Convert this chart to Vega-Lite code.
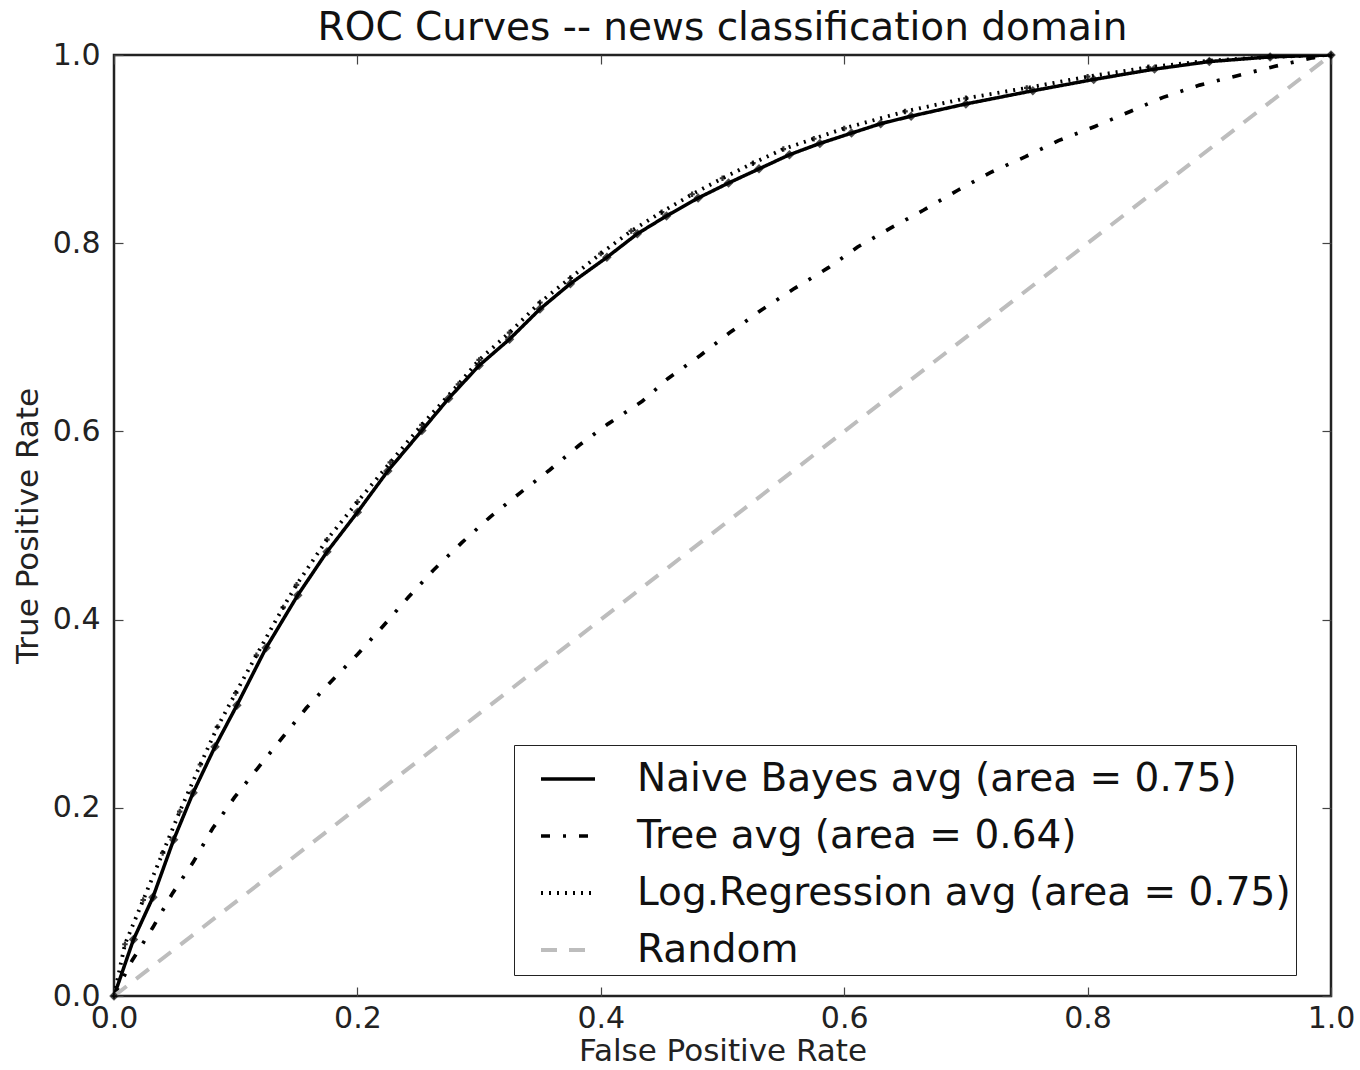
{
  "$schema": "https://vega.github.io/schema/vega-lite/v6.json",
  "width": 1217,
  "height": 941,
  "autosize": {"type": "none"},
  "padding": {"left": 114, "top": 55, "right": 29, "bottom": 74},
  "background": "white",
  "title": {"text": "ROC Curves -- news classification domain", "font": "DejaVu Sans", "fontSize": 39, "fontWeight": "normal", "color": "#111", "anchor": "middle", "offset": -8},
  "config": {
    "view": {"stroke": "#222", "strokeWidth": 2.5},
    "axis": {"labelFont": "DejaVu Sans", "titleFont": "DejaVu Sans", "labelFontSize": 30, "titleFontSize": 31, "titleFontWeight": "normal", "labelColor": "#222", "titleColor": "#222", "grid": false, "domain": false, "tickColor": "#444", "tickSize": -9, "tickWidth": 1.2}
  },
  "datasets": {
    "roc": [
      {"model": "Naive Bayes avg (area = 0.75)", "fpr": 0, "tpr": 0},
      {"model": "Naive Bayes avg (area = 0.75)", "fpr": 0.016, "tpr": 0.06},
      {"model": "Naive Bayes avg (area = 0.75)", "fpr": 0.032, "tpr": 0.105},
      {"model": "Naive Bayes avg (area = 0.75)", "fpr": 0.049, "tpr": 0.166},
      {"model": "Naive Bayes avg (area = 0.75)", "fpr": 0.065, "tpr": 0.216},
      {"model": "Naive Bayes avg (area = 0.75)", "fpr": 0.083, "tpr": 0.265},
      {"model": "Naive Bayes avg (area = 0.75)", "fpr": 0.101, "tpr": 0.309},
      {"model": "Naive Bayes avg (area = 0.75)", "fpr": 0.125, "tpr": 0.37},
      {"model": "Naive Bayes avg (area = 0.75)", "fpr": 0.151, "tpr": 0.426},
      {"model": "Naive Bayes avg (area = 0.75)", "fpr": 0.175, "tpr": 0.472},
      {"model": "Naive Bayes avg (area = 0.75)", "fpr": 0.2, "tpr": 0.514},
      {"model": "Naive Bayes avg (area = 0.75)", "fpr": 0.225, "tpr": 0.558},
      {"model": "Naive Bayes avg (area = 0.75)", "fpr": 0.253, "tpr": 0.601},
      {"model": "Naive Bayes avg (area = 0.75)", "fpr": 0.275, "tpr": 0.635},
      {"model": "Naive Bayes avg (area = 0.75)", "fpr": 0.3, "tpr": 0.67},
      {"model": "Naive Bayes avg (area = 0.75)", "fpr": 0.325, "tpr": 0.698},
      {"model": "Naive Bayes avg (area = 0.75)", "fpr": 0.35, "tpr": 0.73},
      {"model": "Naive Bayes avg (area = 0.75)", "fpr": 0.375, "tpr": 0.757},
      {"model": "Naive Bayes avg (area = 0.75)", "fpr": 0.405, "tpr": 0.785},
      {"model": "Naive Bayes avg (area = 0.75)", "fpr": 0.43, "tpr": 0.81},
      {"model": "Naive Bayes avg (area = 0.75)", "fpr": 0.454, "tpr": 0.829},
      {"model": "Naive Bayes avg (area = 0.75)", "fpr": 0.48, "tpr": 0.848},
      {"model": "Naive Bayes avg (area = 0.75)", "fpr": 0.505, "tpr": 0.864},
      {"model": "Naive Bayes avg (area = 0.75)", "fpr": 0.53, "tpr": 0.879},
      {"model": "Naive Bayes avg (area = 0.75)", "fpr": 0.555, "tpr": 0.894},
      {"model": "Naive Bayes avg (area = 0.75)", "fpr": 0.58, "tpr": 0.906},
      {"model": "Naive Bayes avg (area = 0.75)", "fpr": 0.606, "tpr": 0.917},
      {"model": "Naive Bayes avg (area = 0.75)", "fpr": 0.63, "tpr": 0.927},
      {"model": "Naive Bayes avg (area = 0.75)", "fpr": 0.655, "tpr": 0.935},
      {"model": "Naive Bayes avg (area = 0.75)", "fpr": 0.7, "tpr": 0.948},
      {"model": "Naive Bayes avg (area = 0.75)", "fpr": 0.755, "tpr": 0.962},
      {"model": "Naive Bayes avg (area = 0.75)", "fpr": 0.805, "tpr": 0.974},
      {"model": "Naive Bayes avg (area = 0.75)", "fpr": 0.855, "tpr": 0.985},
      {"model": "Naive Bayes avg (area = 0.75)", "fpr": 0.9, "tpr": 0.993},
      {"model": "Naive Bayes avg (area = 0.75)", "fpr": 0.95, "tpr": 0.998},
      {"model": "Naive Bayes avg (area = 0.75)", "fpr": 1, "tpr": 1},
      {"model": "Tree avg (area = 0.64)", "fpr": 0, "tpr": 0},
      {"model": "Tree avg (area = 0.64)", "fpr": 0.015, "tpr": 0.038},
      {"model": "Tree avg (area = 0.64)", "fpr": 0.032, "tpr": 0.073},
      {"model": "Tree avg (area = 0.64)", "fpr": 0.048, "tpr": 0.109},
      {"model": "Tree avg (area = 0.64)", "fpr": 0.065, "tpr": 0.142},
      {"model": "Tree avg (area = 0.64)", "fpr": 0.081, "tpr": 0.178},
      {"model": "Tree avg (area = 0.64)", "fpr": 0.099, "tpr": 0.211},
      {"model": "Tree avg (area = 0.64)", "fpr": 0.118, "tpr": 0.242},
      {"model": "Tree avg (area = 0.64)", "fpr": 0.138, "tpr": 0.274},
      {"model": "Tree avg (area = 0.64)", "fpr": 0.158, "tpr": 0.306},
      {"model": "Tree avg (area = 0.64)", "fpr": 0.179, "tpr": 0.335},
      {"model": "Tree avg (area = 0.64)", "fpr": 0.2, "tpr": 0.363},
      {"model": "Tree avg (area = 0.64)", "fpr": 0.221, "tpr": 0.393},
      {"model": "Tree avg (area = 0.64)", "fpr": 0.242, "tpr": 0.424},
      {"model": "Tree avg (area = 0.64)", "fpr": 0.262, "tpr": 0.452},
      {"model": "Tree avg (area = 0.64)", "fpr": 0.286, "tpr": 0.482},
      {"model": "Tree avg (area = 0.64)", "fpr": 0.309, "tpr": 0.509},
      {"model": "Tree avg (area = 0.64)", "fpr": 0.334, "tpr": 0.535},
      {"model": "Tree avg (area = 0.64)", "fpr": 0.358, "tpr": 0.559},
      {"model": "Tree avg (area = 0.64)", "fpr": 0.382, "tpr": 0.585},
      {"model": "Tree avg (area = 0.64)", "fpr": 0.406, "tpr": 0.608},
      {"model": "Tree avg (area = 0.64)", "fpr": 0.434, "tpr": 0.632},
      {"model": "Tree avg (area = 0.64)", "fpr": 0.455, "tpr": 0.656},
      {"model": "Tree avg (area = 0.64)", "fpr": 0.482, "tpr": 0.681},
      {"model": "Tree avg (area = 0.64)", "fpr": 0.506, "tpr": 0.705},
      {"model": "Tree avg (area = 0.64)", "fpr": 0.532, "tpr": 0.729},
      {"model": "Tree avg (area = 0.64)", "fpr": 0.558, "tpr": 0.751},
      {"model": "Tree avg (area = 0.64)", "fpr": 0.587, "tpr": 0.774},
      {"model": "Tree avg (area = 0.64)", "fpr": 0.611, "tpr": 0.796},
      {"model": "Tree avg (area = 0.64)", "fpr": 0.638, "tpr": 0.816},
      {"model": "Tree avg (area = 0.64)", "fpr": 0.665, "tpr": 0.835},
      {"model": "Tree avg (area = 0.64)", "fpr": 0.693, "tpr": 0.856},
      {"model": "Tree avg (area = 0.64)", "fpr": 0.72, "tpr": 0.875},
      {"model": "Tree avg (area = 0.64)", "fpr": 0.749, "tpr": 0.892},
      {"model": "Tree avg (area = 0.64)", "fpr": 0.776, "tpr": 0.909},
      {"model": "Tree avg (area = 0.64)", "fpr": 0.806, "tpr": 0.924},
      {"model": "Tree avg (area = 0.64)", "fpr": 0.835, "tpr": 0.94},
      {"model": "Tree avg (area = 0.64)", "fpr": 0.862, "tpr": 0.955},
      {"model": "Tree avg (area = 0.64)", "fpr": 0.892, "tpr": 0.968},
      {"model": "Tree avg (area = 0.64)", "fpr": 0.923, "tpr": 0.978},
      {"model": "Tree avg (area = 0.64)", "fpr": 0.954, "tpr": 0.988},
      {"model": "Tree avg (area = 0.64)", "fpr": 0.985, "tpr": 0.997},
      {"model": "Tree avg (area = 0.64)", "fpr": 1, "tpr": 1},
      {"model": "Log.Regression avg (area = 0.75)", "fpr": 0, "tpr": 0},
      {"model": "Log.Regression avg (area = 0.75)", "fpr": 0.009, "tpr": 0.055},
      {"model": "Log.Regression avg (area = 0.75)", "fpr": 0.024, "tpr": 0.102},
      {"model": "Log.Regression avg (area = 0.75)", "fpr": 0.04, "tpr": 0.152},
      {"model": "Log.Regression avg (area = 0.75)", "fpr": 0.054, "tpr": 0.196},
      {"model": "Log.Regression avg (area = 0.75)", "fpr": 0.071, "tpr": 0.246},
      {"model": "Log.Regression avg (area = 0.75)", "fpr": 0.085, "tpr": 0.286},
      {"model": "Log.Regression avg (area = 0.75)", "fpr": 0.1, "tpr": 0.322},
      {"model": "Log.Regression avg (area = 0.75)", "fpr": 0.117, "tpr": 0.362},
      {"model": "Log.Regression avg (area = 0.75)", "fpr": 0.139, "tpr": 0.413},
      {"model": "Log.Regression avg (area = 0.75)", "fpr": 0.15, "tpr": 0.437},
      {"model": "Log.Regression avg (area = 0.75)", "fpr": 0.175, "tpr": 0.485},
      {"model": "Log.Regression avg (area = 0.75)", "fpr": 0.2, "tpr": 0.525},
      {"model": "Log.Regression avg (area = 0.75)", "fpr": 0.227, "tpr": 0.567},
      {"model": "Log.Regression avg (area = 0.75)", "fpr": 0.253, "tpr": 0.607},
      {"model": "Log.Regression avg (area = 0.75)", "fpr": 0.283, "tpr": 0.65},
      {"model": "Log.Regression avg (area = 0.75)", "fpr": 0.3, "tpr": 0.676},
      {"model": "Log.Regression avg (area = 0.75)", "fpr": 0.325, "tpr": 0.705},
      {"model": "Log.Regression avg (area = 0.75)", "fpr": 0.35, "tpr": 0.737},
      {"model": "Log.Regression avg (area = 0.75)", "fpr": 0.375, "tpr": 0.763},
      {"model": "Log.Regression avg (area = 0.75)", "fpr": 0.4, "tpr": 0.789},
      {"model": "Log.Regression avg (area = 0.75)", "fpr": 0.425, "tpr": 0.813},
      {"model": "Log.Regression avg (area = 0.75)", "fpr": 0.45, "tpr": 0.833},
      {"model": "Log.Regression avg (area = 0.75)", "fpr": 0.475, "tpr": 0.852},
      {"model": "Log.Regression avg (area = 0.75)", "fpr": 0.5, "tpr": 0.869},
      {"model": "Log.Regression avg (area = 0.75)", "fpr": 0.525, "tpr": 0.885},
      {"model": "Log.Regression avg (area = 0.75)", "fpr": 0.55, "tpr": 0.9},
      {"model": "Log.Regression avg (area = 0.75)", "fpr": 0.575, "tpr": 0.911},
      {"model": "Log.Regression avg (area = 0.75)", "fpr": 0.6, "tpr": 0.922},
      {"model": "Log.Regression avg (area = 0.75)", "fpr": 0.65, "tpr": 0.94},
      {"model": "Log.Regression avg (area = 0.75)", "fpr": 0.7, "tpr": 0.954},
      {"model": "Log.Regression avg (area = 0.75)", "fpr": 0.75, "tpr": 0.965},
      {"model": "Log.Regression avg (area = 0.75)", "fpr": 0.8, "tpr": 0.977},
      {"model": "Log.Regression avg (area = 0.75)", "fpr": 0.85, "tpr": 0.987},
      {"model": "Log.Regression avg (area = 0.75)", "fpr": 0.9, "tpr": 0.994},
      {"model": "Log.Regression avg (area = 0.75)", "fpr": 0.95, "tpr": 0.998},
      {"model": "Log.Regression avg (area = 0.75)", "fpr": 1, "tpr": 1},
      {"model": "Random", "fpr": 0, "tpr": 0},
      {"model": "Random", "fpr": 1, "tpr": 1}
    ]
  },
  "data": {"name": "roc"},
  "resolve": {"axis": {"x": "independent", "y": "independent"}},
  "layer": [
    {
      "mark": {"type": "line", "clip": true},
      "encoding": {
        "x": {"field": "fpr", "type": "quantitative", "scale": {"domain": [0, 1], "nice": false, "zero": false}, "axis": {"title": "False Positive Rate", "values": [0, 0.2, 0.4, 0.6, 0.8, 1.0], "format": ".1f", "labelPadding": 16, "titlePadding": 3, "labelFlush": false}},
        "y": {"field": "tpr", "type": "quantitative", "scale": {"domain": [0, 1], "nice": false, "zero": false}, "axis": {"title": "True Positive Rate", "values": [0, 0.2, 0.4, 0.6, 0.8, 1.0], "format": ".1f", "labelPadding": 23, "titlePadding": 8, "labelFlush": false}},
        "order": {"field": "fpr", "type": "quantitative"},
        "color": {"field": "model", "type": "nominal",
          "scale": {"domain": ["Naive Bayes avg (area = 0.75)", "Tree avg (area = 0.64)", "Log.Regression avg (area = 0.75)", "Random"], "range": ["#000000", "#000000", "#000000", "#bdbdbd"]},
          "legend": {"title": null, "orient": "none", "legendX": 400, "legendY": 690, "symbolType": "stroke", "symbolSize": 2916, "symbolOffset": 20, "labelFont": "DejaVu Sans", "labelFontSize": 39, "labelColor": "#111", "labelOffset": 40, "strokeColor": "#222", "fillColor": "white", "padding": 5, "rowPadding": 8, "cornerRadius": 0, "labelLimit": 900}},
        "strokeDash": {"field": "model", "type": "nominal",
          "scale": {"domain": ["Naive Bayes avg (area = 0.75)", "Tree avg (area = 0.64)", "Log.Regression avg (area = 0.75)", "Random"], "range": [[1, 0], [9, 13, 3, 13], [2, 6], [16, 12]]},
          "legend": {"title": null}},
        "strokeWidth": {"field": "model", "type": "nominal",
          "scale": {"domain": ["Naive Bayes avg (area = 0.75)", "Tree avg (area = 0.64)", "Log.Regression avg (area = 0.75)", "Random"], "range": [3.5, 4, 3, 2]},
          "legend": {"title": null}}
      }
    },
    {
      "transform": [{"filter": "datum.model === 'Naive Bayes avg (area = 0.75)'"}],
      "mark": {"type": "point", "shape": "diamond", "filled": true, "color": "#000", "size": 90},
      "encoding": {
        "x": {"field": "fpr", "type": "quantitative", "axis": {"orient": "top", "labels": false, "title": null, "values": [0, 0.2, 0.4, 0.6, 0.8, 1.0]}},
        "y": {"field": "tpr", "type": "quantitative", "axis": {"orient": "right", "labels": false, "title": null, "values": [0, 0.2, 0.4, 0.6, 0.8, 1.0]}}
      }
    },
    {
      "transform": [{"filter": "datum.model === 'Log.Regression avg (area = 0.75)'"}],
      "mark": {"type": "point", "shape": "cross", "filled": true, "color": "#000", "size": 30, "opacity": 0.8},
      "encoding": {
        "x": {"field": "fpr", "type": "quantitative", "axis": null},
        "y": {"field": "tpr", "type": "quantitative", "axis": null}
      }
    }
  ]
}
